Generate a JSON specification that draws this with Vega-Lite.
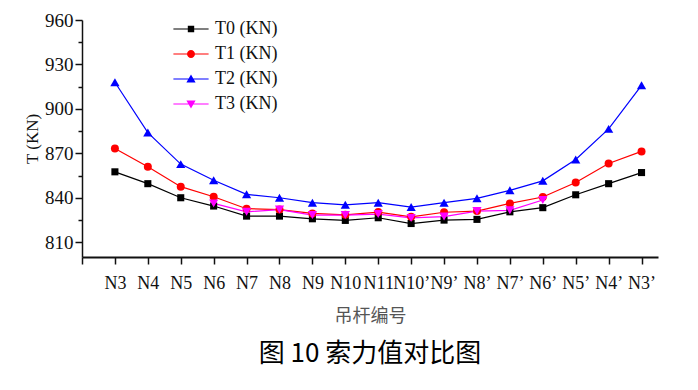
{
  "$schema": "https://vega.github.io/schema/vega-lite/v6.json",
  "width": 576,
  "height": 237,
  "autosize": {"type": "none"},
  "padding": {"left": 82, "top": 20, "right": 40, "bottom": 133},
  "background": "white",
  "config": {"view": {"stroke": null}},
  "title": {"text": "图 10  索力值对比图", "orient": "bottom", "anchor": "middle", "font": "Noto Sans CJK SC", "fontSize": 26, "fontWeight": "normal", "color": "#000000", "offset": 16},
  "data": {"values": [
    {"s": "T0 (KN)", "i": 0, "T": 857.5}, {"s": "T0 (KN)", "i": 1, "T": 849.5}, {"s": "T0 (KN)", "i": 2, "T": 840}, {"s": "T0 (KN)", "i": 3, "T": 834.4}, {"s": "T0 (KN)", "i": 4, "T": 827.6}, {"s": "T0 (KN)", "i": 5, "T": 827.6}, {"s": "T0 (KN)", "i": 6, "T": 825.8}, {"s": "T0 (KN)", "i": 7, "T": 824.7}, {"s": "T0 (KN)", "i": 8, "T": 826.5}, {"s": "T0 (KN)", "i": 9, "T": 822.6}, {"s": "T0 (KN)", "i": 10, "T": 824.9}, {"s": "T0 (KN)", "i": 11, "T": 825.4}, {"s": "T0 (KN)", "i": 12, "T": 830.5}, {"s": "T0 (KN)", "i": 13, "T": 833.3}, {"s": "T0 (KN)", "i": 14, "T": 842}, {"s": "T0 (KN)", "i": 15, "T": 849.5}, {"s": "T0 (KN)", "i": 16, "T": 857},
    {"s": "T1 (KN)", "i": 0, "T": 873.3}, {"s": "T1 (KN)", "i": 1, "T": 860.9}, {"s": "T1 (KN)", "i": 2, "T": 847.5}, {"s": "T1 (KN)", "i": 3, "T": 840.7}, {"s": "T1 (KN)", "i": 4, "T": 832.6}, {"s": "T1 (KN)", "i": 5, "T": 832}, {"s": "T1 (KN)", "i": 6, "T": 829.4}, {"s": "T1 (KN)", "i": 7, "T": 828.5}, {"s": "T1 (KN)", "i": 8, "T": 830.3}, {"s": "T1 (KN)", "i": 9, "T": 827.1}, {"s": "T1 (KN)", "i": 10, "T": 830.2}, {"s": "T1 (KN)", "i": 11, "T": 831}, {"s": "T1 (KN)", "i": 12, "T": 836.2}, {"s": "T1 (KN)", "i": 13, "T": 840.5}, {"s": "T1 (KN)", "i": 14, "T": 850.3}, {"s": "T1 (KN)", "i": 15, "T": 863.1}, {"s": "T1 (KN)", "i": 16, "T": 871.3},
    {"s": "T2 (KN)", "i": 0, "T": 918}, {"s": "T2 (KN)", "i": 1, "T": 884}, {"s": "T2 (KN)", "i": 2, "T": 862.7}, {"s": "T2 (KN)", "i": 3, "T": 851.8}, {"s": "T2 (KN)", "i": 4, "T": 842.3}, {"s": "T2 (KN)", "i": 5, "T": 840}, {"s": "T2 (KN)", "i": 6, "T": 836.7}, {"s": "T2 (KN)", "i": 7, "T": 835.2}, {"s": "T2 (KN)", "i": 8, "T": 836.7}, {"s": "T2 (KN)", "i": 9, "T": 833.7}, {"s": "T2 (KN)", "i": 10, "T": 836.7}, {"s": "T2 (KN)", "i": 11, "T": 839.6}, {"s": "T2 (KN)", "i": 12, "T": 845}, {"s": "T2 (KN)", "i": 13, "T": 851.4}, {"s": "T2 (KN)", "i": 14, "T": 865.8}, {"s": "T2 (KN)", "i": 15, "T": 886.5}, {"s": "T2 (KN)", "i": 16, "T": 915.9},
    {"s": "T3 (KN)", "i": 3, "T": 836.2}, {"s": "T3 (KN)", "i": 4, "T": 830.5}, {"s": "T3 (KN)", "i": 5, "T": 832}, {"s": "T3 (KN)", "i": 6, "T": 828.3}, {"s": "T3 (KN)", "i": 7, "T": 828.3}, {"s": "T3 (KN)", "i": 8, "T": 829}, {"s": "T3 (KN)", "i": 9, "T": 826.4}, {"s": "T3 (KN)", "i": 10, "T": 827.3}, {"s": "T3 (KN)", "i": 11, "T": 831}, {"s": "T3 (KN)", "i": 12, "T": 831.5}, {"s": "T3 (KN)", "i": 13, "T": 838.5}
  ]},
  "encoding": {
    "x": {"field": "i", "type": "quantitative",
      "scale": {"domain": [-1, 16.5], "nice": false, "zero": false},
      "axis": {
        "values": [-1, 0, 1, 2, 3, 4, 5, 6, 7, 8, 9, 10, 11, 12, 13, 14, 15, 16],
        "labelExpr": "datum.value < 0 ? '' : ['N3','N4','N5','N6','N7','N8','N9','N10','N11','N10’','N9’','N8’','N7’','N6’','N5’','N4’','N3’'][datum.value]",
        "grid": false, "labelAngle": 0, "labelFlush": false, "labelOverlap": false, "labelBound": false,
        "labelFont": "Liberation Serif", "labelFontSize": 18, "labelColor": "#111111", "labelPadding": 10,
        "tickSize": 7, "tickWidth": 1.5, "tickColor": "#111111",
        "domainWidth": 2, "domainColor": "#111111",
        "title": "吊杆编号", "titleFont": "Noto Sans CJK SC", "titleFontSize": 18, "titleFontWeight": "normal", "titleColor": "#555555", "titlePadding": 15
      }},
    "y": {"field": "T", "type": "quantitative",
      "scale": {"domain": [800, 960], "nice": false, "zero": false},
      "axis": {
        "values": [810, 825, 840, 855, 870, 885, 900, 915, 930, 945, 960],
        "labelExpr": "datum.value % 30 === 0 ? datum.label : ''",
        "grid": false,
        "labelFont": "Liberation Serif", "labelFontSize": 19, "labelColor": "#111111", "labelPadding": 2,
        "tickSize": {"condition": {"test": "datum.value % 30 === 0", "value": 7}, "value": 4},
        "tickWidth": 1.5, "tickColor": "#111111",
        "domainWidth": 1.5, "domainColor": "#111111",
        "title": "T (KN)", "titleFont": "Liberation Serif", "titleFontSize": 17, "titleFontWeight": "normal", "titleColor": "#111111", "titlePadding": 3
      }},
    "color": {"field": "s", "type": "nominal",
      "scale": {"domain": ["T0 (KN)", "T1 (KN)", "T2 (KN)", "T3 (KN)"], "range": ["#000000", "#ff0000", "#0000ff", "#ff00ff"]}}
  },
  "layer": [
    {"transform": [{"filter": "datum.i > 100"}],
      "mark": {"type": "point", "filled": true, "opacity": 1, "size": 64},
      "encoding": {
        "color": {"field": "s", "type": "nominal",
          "legend": {"orient": "none", "legendX": 100, "legendY": 0, "title": null, "padding": 0,
            "labelFont": "Liberation Serif", "labelFontSize": 18, "labelColor": "#111111", "labelOffset": 15,
            "symbolSize": 64, "symbolOpacity": 1, "symbolStrokeWidth": 0, "rowPadding": 7}},
        "shape": {"field": "s", "type": "nominal",
          "scale": {"domain": ["T0 (KN)", "T1 (KN)", "T2 (KN)", "T3 (KN)"],
            "range": [
              "M-4.4,-0.15H4.4V0.15H-4.4Z M-0.8,-0.8H0.8V0.8H-0.8Z",
              "M-4.4,-0.15H4.4V0.15H-4.4Z M1,0A1,1 0 1,1 -1,0A1,1 0 1,1 1,0Z",
              "M-4.4,-0.15H4.4V0.15H-4.4Z M0,-1.15L1.15,0.85H-1.15Z",
              "M-4.4,-0.15H4.4V0.15H-4.4Z M-1.15,-0.85H1.15L0,1.15Z"]},
          "legend": {"orient": "none", "legendX": 100, "legendY": 0, "title": null}}
      }},
    {"mark": {"type": "line", "strokeWidth": 1.2}, "encoding": {"order": {"field": "i", "type": "quantitative"}, "color": {"field": "s", "type": "nominal", "legend": null}}},
    {"transform": [{"filter": "datum.s === 'T0 (KN)'"}], "mark": {"type": "point", "shape": "square", "filled": true, "opacity": 1, "size": 50}, "encoding": {"color": {"field": "s", "type": "nominal", "legend": null}}},
    {"transform": [{"filter": "datum.s === 'T1 (KN)'"}], "mark": {"type": "point", "shape": "circle", "filled": true, "opacity": 1, "size": 64}, "encoding": {"color": {"field": "s", "type": "nominal", "legend": null}}},
    {"transform": [{"filter": "datum.s === 'T2 (KN)'"}], "mark": {"type": "point", "shape": "triangle-up", "filled": true, "opacity": 1, "size": 85}, "encoding": {"color": {"field": "s", "type": "nominal", "legend": null}}},
    {"transform": [{"filter": "datum.s === 'T3 (KN)'"}], "mark": {"type": "point", "shape": "triangle-down", "filled": true, "opacity": 1, "size": 85}, "encoding": {"color": {"field": "s", "type": "nominal", "legend": null}}}
  ]
}
